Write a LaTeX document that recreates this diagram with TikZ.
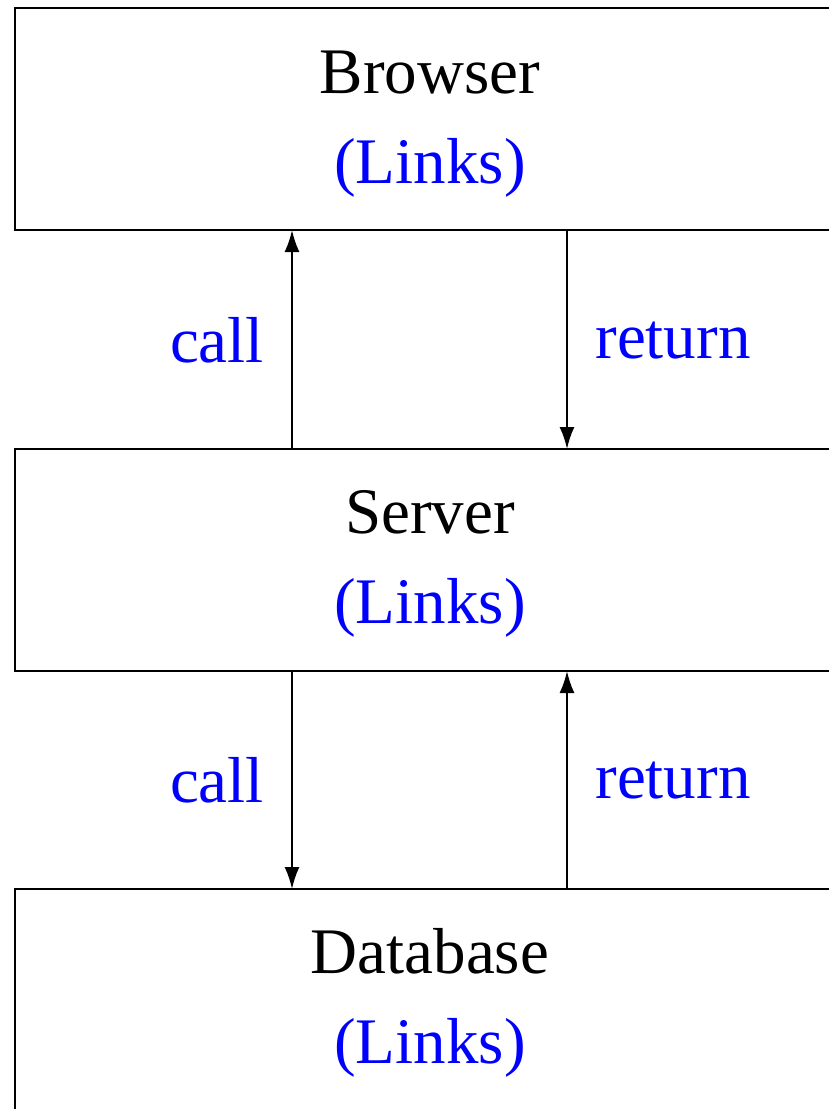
\documentclass[tikz,border=0pt]{standalone}
\usepackage{fontspec}
\setmainfont{Liberation Serif}
\usetikzlibrary{arrows.meta}
\begin{document}
\begin{tikzpicture}[x=1pt,y=1pt,
  box/.style={draw,line width=2.2pt,minimum width=830pt,minimum height=222pt,inner sep=0pt,outer sep=0pt},
  txt/.style={font=\fontsize{65}{78}\selectfont,anchor=base,inner sep=0pt},
  lbl/.style={txt,text=blue},
  conn/.style={line width=2pt,-{Latex[length=22pt,width=15pt]}}]
\useasboundingbox (0,0) rectangle (829,-1109);
\node[box] (browser) at (430,-119) {};
\node[box] (server) at (430,-560) {};
\node[box] (database) at (430,-1000) {};
\node[txt] (bt) at (430,-93) {Browser};
\node[lbl] (bl) at (430,-183) {(Links)};
\node[txt] (st) at (430,-533) {Server};
\node[lbl] (sl) at (430,-623) {(Links)};
\node[txt] (dt) at (430,-973) {Database};
\node[lbl] (dl) at (430,-1063) {(Links)};
\coordinate (lx) at (292,0);
\coordinate (rx) at (567,0);
\draw[conn] (server.north -| lx) -- (browser.south -| lx);
\draw[conn] (browser.south -| rx) -- (server.north -| rx);
\draw[conn] (server.south -| lx) -- (database.north -| lx);
\draw[conn] (database.north -| rx) -- (server.south -| rx);
\node[lbl] (c1) at (217,-362) {call};
\node[lbl] (r1) at (673,-358) {return};
\node[lbl] (c2) at (217,-802) {call};
\node[lbl] (r2) at (673,-798) {return};
\end{tikzpicture}
\end{document}
